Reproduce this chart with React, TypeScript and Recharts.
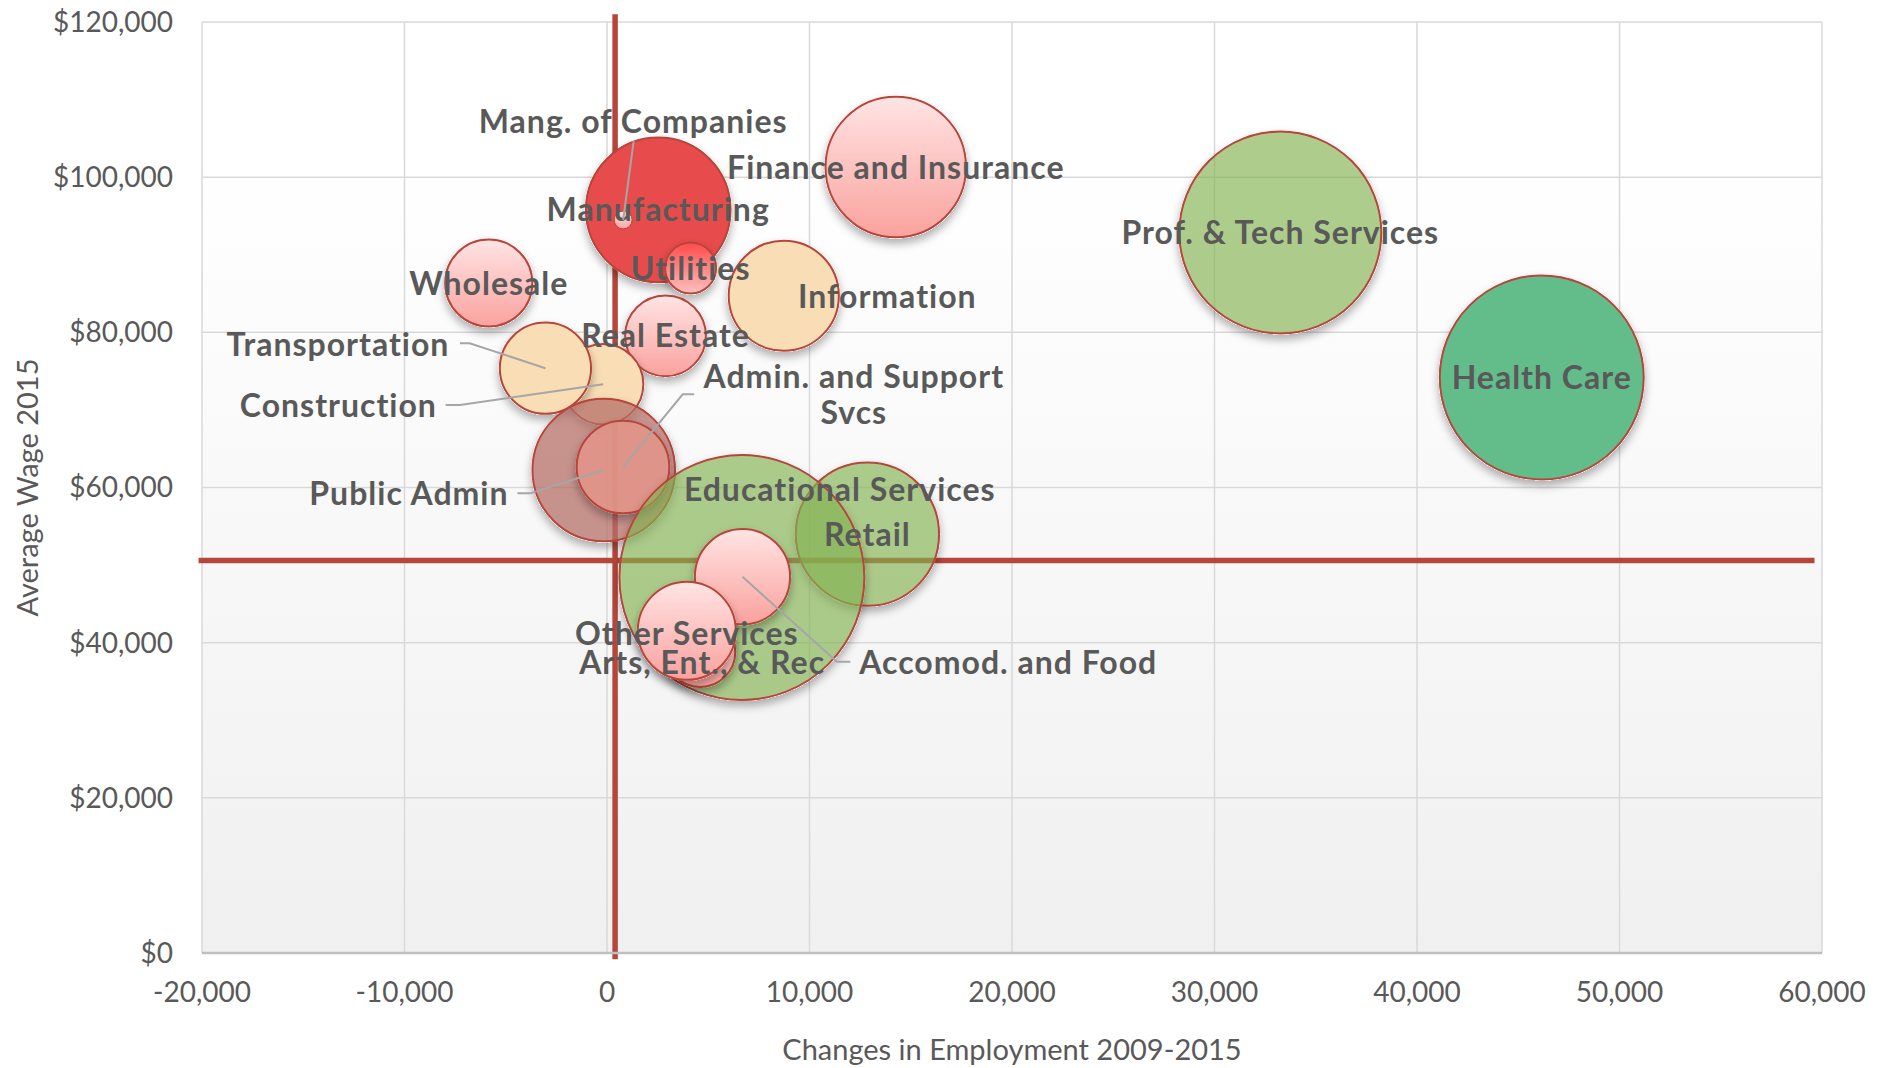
import React from 'react';
import { ScatterChart, Scatter, XAxis, YAxis, ZAxis, CartesianGrid, ReferenceLine, Label } from 'recharts';

// ---- Data ----
const industries = [
  'Health Care', 'Prof. & Tech Services', 'Finance and Insurance', 'Manufacturing',
  'Mang. of Companies', 'Utilities', 'Information', 'Wholesale', 'Real Estate',
  'Construction', 'Transportation', 'Public Admin', 'Admin. and Support Svcs',
  'Retail', 'Educational Services', 'Accomod. and Food', 'Arts, Ent., & Rec', 'Other Services',
];
const employmentChange = [46160, 33250, 14260, 2530, 800, 4130, 8730, -5840, 2890, -190, -3040, -160, 790, 12860, 6660, 6690, 4600, 3940];
const averageWage = [74180, 92870, 101300, 95790, 94480, 88290, 84720, 86360, 79550, 73310, 75380, 62250, 62640, 53980, 48400, 48500, 38800, 41530];
const employment = [31200, 30600, 14800, 15700, 240, 1950, 9100, 5700, 4900, 4850, 6240, 15250, 6430, 15400, 45000, 6800, 3700, 7200];

const avgEmploymentChange = 400;
const avgWage2015 = 50600;

const xTicks = [-20000, -10000, 0, 10000, 20000, 30000, 40000, 50000, 60000];
const yTicks = [0, 20000, 40000, 60000, 80000, 100000, 120000];

const data = industries.map((name, i) => ({ name, x: employmentChange[i], y: averageWage[i], z: employment[i] }));

// ---- Styles ----
const PINK = 'url(#gPink)';
const PEACH = '#F9DDB5';
const GREEN = '#82B24E';
const bubbleStyle: Record<string, { fill: string; opacity?: number }> = {
  'Health Care': { fill: '#63BD8A' },
  'Prof. & Tech Services': { fill: GREEN, opacity: 0.65 },
  'Finance and Insurance': { fill: PINK },
  'Manufacturing': { fill: '#E84B4C' },
  'Mang. of Companies': { fill: PINK },
  'Utilities': { fill: 'url(#gUtil)' },
  'Information': { fill: PEACH },
  'Wholesale': { fill: PINK },
  'Real Estate': { fill: PINK },
  'Construction': { fill: PEACH },
  'Transportation': { fill: PEACH },
  'Public Admin': { fill: '#B57067', opacity: 0.75 },
  'Admin. and Support Svcs': { fill: '#E19487', opacity: 0.9 },
  'Retail': { fill: GREEN, opacity: 0.65 },
  'Educational Services': { fill: GREEN, opacity: 0.65 },
  'Accomod. and Food': { fill: PINK },
  'Arts, Ent., & Rec': { fill: PINK },
  'Other Services': { fill: PINK },
};

type Layout = { dx: number; dy: number; lines?: string[]; leader?: [number, number][] };
const labelLayout: Record<string, Layout> = {
  'Mang. of Companies': { dx: 10, dy: -99, leader: [[10.5, -79], [0, 0]] },
  'Information': { dx: 103.5, dy: 0.6 },
  'Transportation': { dx: -207.5, dy: -24, leader: [[-85.5, -24.9], [-75.8, -24.9], [0, 0]] },
  'Construction': { dx: -264.8, dy: 21, leader: [[-157.5, 20.8], [-143.1, 20.8], [0, 0]] },
  'Admin. and Support Svcs': { dx: 230.8, dy: -91, lines: ['Admin. and Support', 'Svcs'], leader: [[71.2, -72.7], [59.7, -72.7], [0, 0]] },
  'Public Admin': { dx: -194.8, dy: 23.7, leader: [[-86.3, 23.3], [-73.7, 23.3], [0, 0]] },
  'Educational Services': { dx: 97.9, dy: -88.3 },
  'Accomod. and Food': { dx: 265.8, dy: 85.8, leader: [[107.9, 85], [94.5, 85], [0, 0]] },
  'Other Services': { dx: 0, dy: 3 },
  'Arts, Ent., & Rec': { dx: 2, dy: 10.5 },
};

const TEXT = '#595959';
const RED = '#B5473A';

const BubbleShape = (props: any) => {
  const { cx, cy, payload } = props;
  if (cx == null || cy == null) return null;
  const size = props.size ?? Math.PI * Math.pow((props.width || 0) / 2, 2);
  const r = Math.sqrt(size / Math.PI);
  const st = bubbleStyle[payload.name] || { fill: PINK };
  return (
    <circle cx={cx} cy={cy} r={r} fill={st.fill} fillOpacity={st.opacity ?? 1}
      stroke="#B7453B" strokeWidth={r < 15 ? 1 : 2}
      filter={r < 15 ? undefined : 'url(#bubbleShadow)'} />
  );
};

const LabelShape = (props: any) => {
  const { cx, cy, payload } = props;
  if (cx == null || cy == null) return null;
  const lay = labelLayout[payload.name] || { dx: 0, dy: 0 };
  const lines = lay.lines || [payload.name];
  const textStyle = { fontFamily: 'Lato', fontWeight: 700, fontSize: 32, letterSpacing: 1 } as any;
  return (
    <g>
      {lay.leader && (
        <polyline points={lay.leader.map(([a, b]) => `${cx + a},${cy + b}`).join(' ')}
          fill="none" stroke="#A6A6A6" strokeWidth={2} />
      )}
      {lines.map((t, i) => (
        <text key={i} x={cx + lay.dx} y={cy + lay.dy + i * 36.8} dy="0.36em" textAnchor="middle"
          fill={TEXT} style={textStyle}>{t}</text>
      ))}
    </g>
  );
};

const YTitle = (props: any) => {
  const vb = props.viewBox || { y: 22, height: 931 };
  const cx = 28;
  const cy = vb.y + vb.height / 2;
  return (
    <text x={cx} y={cy} transform={`rotate(-90, ${cx}, ${cy})`} textAnchor="middle" dy="0.36em"
      fill={TEXT} style={{ fontFamily: 'Lato', fontSize: 29 }}>Average Wage 2015</text>
  );
};

const XTitle = (props: any) => {
  const vb = props.viewBox || { x: 202, width: 1620 };
  const cx = vb.x + vb.width / 2;
  const cy = 1050;
  return (
    <text x={cx} y={cy} textAnchor="middle" dy="0.36em" fill={TEXT}
      style={{ fontFamily: 'Lato', fontSize: 29 }}>Changes in Employment 2009-2015</text>
  );
};

const fmtX = (v: number) => v.toLocaleString('en-US');
const fmtY = (v: number) => '$' + v.toLocaleString('en-US');

export default function App() {
  return (
    <div style={{ position: 'absolute', left: 0, top: 0, width: 1888, height: 1068, background: '#fff', fontFamily: 'Lato' }}>
      <ScatterChart width={1888} height={1068} margin={{ top: 22, right: 66, bottom: 0, left: 0 }}>
        <defs>
          <linearGradient id="plotBg" x1="0" y1="0" x2="0" y2="1">
            <stop offset="0" stopColor="#FFFFFF" />
            <stop offset="0.15" stopColor="#FFFFFF" />
            <stop offset="1" stopColor="#F0F0F0" />
          </linearGradient>
          <linearGradient id="gPink" x1="0" y1="0" x2="0" y2="1">
            <stop offset="0" stopColor="#FFE4E4" />
            <stop offset="1" stopColor="#FAA29E" />
          </linearGradient>
          <linearGradient id="gUtil" x1="0" y1="0" x2="0" y2="1">
            <stop offset="0" stopColor="#FF4A4A" />
            <stop offset="1" stopColor="#FDC0C0" />
          </linearGradient>
          <filter id="bubbleShadow" x="-20%" y="-20%" width="140%" height="150%">
            <feComponentTransfer in="SourceAlpha" result="solid">
              <feFuncA type="linear" slope="50" />
            </feComponentTransfer>
            <feGaussianBlur in="solid" stdDeviation="4" result="blur" />
            <feOffset in="blur" dx="0" dy="5" result="off" />
            <feComposite in="off" in2="solid" operator="out" result="outer" />
            <feFlood floodColor="#000" floodOpacity="0.3" />
            <feComposite in2="outer" operator="in" result="shadow" />
            <feMerge>
              <feMergeNode in="shadow" />
              <feMergeNode in="SourceGraphic" />
            </feMerge>
          </filter>
        </defs>
        <CartesianGrid stroke="#D9D9D9" strokeWidth={1.5} fill="url(#plotBg)" />
        <XAxis type="number" dataKey="x" domain={[-20000, 60000]} ticks={xTicks} tickFormatter={fmtX}
          height={115} tickLine={false} tickSize={0} tickMargin={29}
          axisLine={{ stroke: '#BFBFBF', strokeWidth: 2.5 }}
          tick={{ fill: TEXT, fontSize: 28, fontFamily: 'Lato' }} interval={0}>
          <Label content={<XTitle />} />
        </XAxis>
        <YAxis type="number" dataKey="y" domain={[0, 120000]} ticks={yTicks} tickFormatter={fmtY}
          width={202} tickLine={false} tickSize={0} tickMargin={29} axisLine={false}
          tick={{ fill: TEXT, fontSize: 28, fontFamily: 'Lato' }} interval={0}>
          <Label content={<YTitle />} />
        </YAxis>
        <ZAxis type="number" dataKey="z" domain={[0, 45000]} range={[0, 45000 * Math.PI / 3]} />
        <Scatter data={data} shape={<BubbleShape />} isAnimationActive={false} />
        <ReferenceLine segment={[{ x: avgEmploymentChange, y: 121000 }, { x: avgEmploymentChange, y: -800 }]}
          stroke={RED} strokeWidth={5.5} ifOverflow="visible" />
        <ReferenceLine segment={[{ x: -20170, y: avgWage2015 }, { x: 59630, y: avgWage2015 }]}
          stroke={RED} strokeWidth={5.5} ifOverflow="visible" />
        <Scatter data={data} shape={<LabelShape />} isAnimationActive={false} />
      </ScatterChart>
    </div>
  );
}
